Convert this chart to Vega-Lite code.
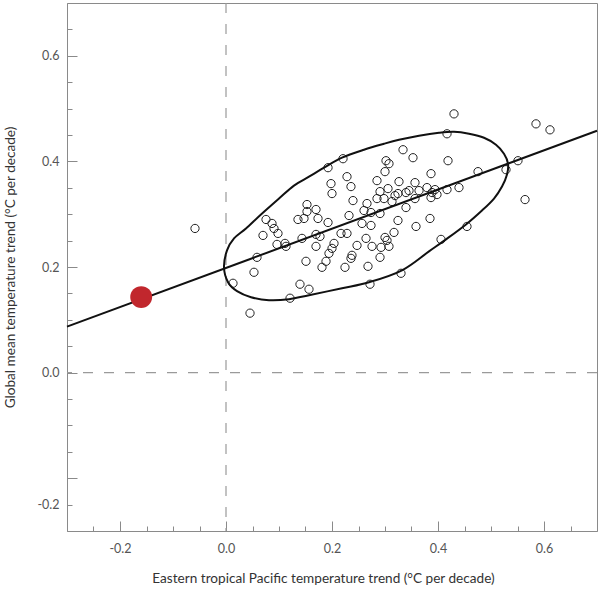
{
  "$schema": "https://vega.github.io/schema/vega-lite/v6.json",
  "width": 530,
  "height": 528,
  "autosize": "none",
  "padding": {"left": 67, "top": 3, "right": 3, "bottom": 63},
  "background": "white",
  "resolve": {"axis": {"x": "independent", "y": "independent"}},
  "config": {
    "view": {"stroke": "#8a8a8a", "strokeWidth": 1},
    "axis": {
      "domainColor": "#8a8a8a",
      "tickColor": "#8a8a8a",
      "domainWidth": 1,
      "tickWidth": 1,
      "grid": false,
      "labelFont": "Lato",
      "labelFontSize": 12.5,
      "labelColor": "#555555",
      "titleFont": "Lato",
      "titleFontSize": 13.6,
      "titleFontWeight": "normal",
      "titleColor": "#333333",
      "labelOverlap": false,
      "labelFlush": false,
      "labelBound": false
    }
  },
  "layer": [
    {
      "data": {"values": [{"x": 0}]},
      "mark": {"type": "rule", "color": "#9a9a9a", "strokeWidth": 1.2, "strokeDash": [10, 11]},
      "encoding": {
        "x": {"field": "x", "type": "quantitative", "scale": {"domain": [-0.3, 0.7], "nice": false, "zero": false}, "axis": null}
      }
    },
    {
      "data": {"values": [{"y": 0}]},
      "mark": {"type": "rule", "color": "#9a9a9a", "strokeWidth": 1.2, "strokeDash": [10, 11]},
      "encoding": {
        "y": {"field": "y", "type": "quantitative", "scale": {"domain": [-0.3, 0.7], "nice": false, "zero": false}, "axis": null}
      }
    },
    {
      "data": {"values": [
        {"x": -0.0585, "y": 0.273}, {"x": 0.0453, "y": 0.1126}, {"x": 0.0132, "y": 0.1692}, {"x": 0.0585, "y": 0.2183},
        {"x": 0.0528, "y": 0.19}, {"x": 0.0698, "y": 0.2598}, {"x": 0.0755, "y": 0.29}, {"x": 0.0868, "y": 0.2825},
        {"x": 0.0906, "y": 0.273}, {"x": 0.0981, "y": 0.2636}, {"x": 0.0962, "y": 0.2428}, {"x": 0.1113, "y": 0.2447},
        {"x": 0.1132, "y": 0.2391}, {"x": 0.1434, "y": 0.2542}, {"x": 0.1528, "y": 0.3183}, {"x": 0.1528, "y": 0.3051},
        {"x": 0.1698, "y": 0.3089}, {"x": 0.1358, "y": 0.29}, {"x": 0.1472, "y": 0.2919}, {"x": 0.1736, "y": 0.2919},
        {"x": 0.1925, "y": 0.2843}, {"x": 0.1698, "y": 0.2617}, {"x": 0.1774, "y": 0.2579}, {"x": 0.1698, "y": 0.2391},
        {"x": 0.1509, "y": 0.2108}, {"x": 0.1887, "y": 0.2108}, {"x": 0.1396, "y": 0.1674}, {"x": 0.1566, "y": 0.1579},
        {"x": 0.1208, "y": 0.1409},
        {"x": 0.1925, "y": 0.3881}, {"x": 0.2208, "y": 0.4051}, {"x": 0.334, "y": 0.4221}, {"x": 0.3528, "y": 0.407},
        {"x": 0.3019, "y": 0.4013}, {"x": 0.3075, "y": 0.3957}, {"x": 0.3, "y": 0.3806}, {"x": 0.2283, "y": 0.3711},
        {"x": 0.1981, "y": 0.3579}, {"x": 0.2, "y": 0.3391}, {"x": 0.2358, "y": 0.3523}, {"x": 0.3264, "y": 0.3617},
        {"x": 0.2849, "y": 0.3636}, {"x": 0.2906, "y": 0.3428}, {"x": 0.3057, "y": 0.3485}, {"x": 0.3189, "y": 0.3353},
        {"x": 0.3245, "y": 0.3391}, {"x": 0.3453, "y": 0.3447}, {"x": 0.3566, "y": 0.3598}, {"x": 0.3642, "y": 0.3447},
        {"x": 0.3792, "y": 0.3504}, {"x": 0.3868, "y": 0.3768}, {"x": 0.3887, "y": 0.341}, {"x": 0.2396, "y": 0.3258},
        {"x": 0.266, "y": 0.3202}, {"x": 0.2849, "y": 0.3296}, {"x": 0.2981, "y": 0.3296}, {"x": 0.3132, "y": 0.324},
        {"x": 0.3396, "y": 0.3126}, {"x": 0.2321, "y": 0.2975}, {"x": 0.2604, "y": 0.307}, {"x": 0.2736, "y": 0.3032},
        {"x": 0.2906, "y": 0.3013}, {"x": 0.2566, "y": 0.2825}, {"x": 0.2736, "y": 0.2787}, {"x": 0.3245, "y": 0.2881},
        {"x": 0.3585, "y": 0.2768}, {"x": 0.3849, "y": 0.2919},
        {"x": 0.4302, "y": 0.49}, {"x": 0.5849, "y": 0.4711}, {"x": 0.6113, "y": 0.4598}, {"x": 0.417, "y": 0.4523},
        {"x": 0.4189, "y": 0.4013}, {"x": 0.4755, "y": 0.3806}, {"x": 0.5283, "y": 0.3843}, {"x": 0.5509, "y": 0.4013},
        {"x": 0.5642, "y": 0.3277}, {"x": 0.4396, "y": 0.3504}, {"x": 0.417, "y": 0.3466}, {"x": 0.3943, "y": 0.3466},
        {"x": 0.3396, "y": 0.341}, {"x": 0.3566, "y": 0.3296}, {"x": 0.3868, "y": 0.3315}, {"x": 0.3981, "y": 0.3372},
        {"x": 0.4547, "y": 0.2768}, {"x": 0.4057, "y": 0.2523},
        {"x": 0.217, "y": 0.2636}, {"x": 0.2283, "y": 0.2636}, {"x": 0.2038, "y": 0.2447}, {"x": 0.2, "y": 0.2353},
        {"x": 0.1943, "y": 0.2258}, {"x": 0.1811, "y": 0.1994}, {"x": 0.2472, "y": 0.2409}, {"x": 0.2377, "y": 0.2221},
        {"x": 0.2358, "y": 0.2164}, {"x": 0.2245, "y": 0.1994}, {"x": 0.2642, "y": 0.2542}, {"x": 0.2755, "y": 0.2391},
        {"x": 0.2925, "y": 0.2372}, {"x": 0.3, "y": 0.256}, {"x": 0.3038, "y": 0.2504}, {"x": 0.3075, "y": 0.2391},
        {"x": 0.317, "y": 0.2655}, {"x": 0.2906, "y": 0.2183}, {"x": 0.2679, "y": 0.2013}, {"x": 0.3302, "y": 0.1881},
        {"x": 0.2717, "y": 0.1674}
      ]},
      "mark": {"type": "point", "shape": "circle", "filled": false, "stroke": "#222222", "strokeWidth": 1, "size": 68, "opacity": 1},
      "encoding": {
        "x": {"field": "x", "type": "quantitative", "scale": {"domain": [-0.3, 0.7], "nice": false, "zero": false},
          "axis": {
            "orient": "bottom",
            "offset": 0,
            "values": [-0.2, 0, 0.2, 0.4, 0.6],
            "labelExpr": "datum.value < -0.1 ? '-0.2' : format(datum.value, '.1f')",
            "tickSize": -10,
            "labelPadding": 21,
            "title": "Eastern tropical Pacific temperature trend (°C per decade)",
            "titlePadding": 17,
            "titleX": 256,
            "titleAlign": "center"
          }
        },
        "y": {"field": "y", "type": "quantitative", "scale": {"domain": [-0.3, 0.7], "nice": false, "zero": false},
          "axis": {
            "orient": "left",
            "offset": 0,
            "values": [-0.2, 0, 0.2, 0.4, 0.6],
            "labelExpr": "datum.value < -0.1 ? '' : format(datum.value, '.1f')",
            "tickSize": -10,
            "labelPadding": 18,
            "title": "Global mean temperature trend (°C per decade)",
            "titlePadding": 24
          }
        }
      }
    },
    {
      "data": {"values": [
        {"i": 0, "x": -0.0038, "y": 0.1994}, {"i": 1, "x": 0.0019, "y": 0.2315}, {"i": 2, "x": 0.0151, "y": 0.2542},
        {"i": 3, "x": 0.0377, "y": 0.273}, {"i": 4, "x": 0.066, "y": 0.2994}, {"i": 5, "x": 0.1, "y": 0.3296},
        {"i": 6, "x": 0.1283, "y": 0.3542}, {"i": 7, "x": 0.1566, "y": 0.3711}, {"i": 8, "x": 0.1849, "y": 0.3881},
        {"i": 9, "x": 0.2189, "y": 0.407}, {"i": 10, "x": 0.2604, "y": 0.4221}, {"i": 11, "x": 0.2981, "y": 0.4334},
        {"i": 12, "x": 0.3264, "y": 0.4409}, {"i": 13, "x": 0.3642, "y": 0.4485}, {"i": 14, "x": 0.4019, "y": 0.4541},
        {"i": 15, "x": 0.4302, "y": 0.456}, {"i": 16, "x": 0.4585, "y": 0.4523}, {"i": 17, "x": 0.4868, "y": 0.4447},
        {"i": 18, "x": 0.5094, "y": 0.4315}, {"i": 19, "x": 0.5245, "y": 0.4145}, {"i": 20, "x": 0.5321, "y": 0.3957},
        {"i": 21, "x": 0.5302, "y": 0.375}, {"i": 22, "x": 0.5208, "y": 0.3523}, {"i": 23, "x": 0.5057, "y": 0.3296},
        {"i": 24, "x": 0.483, "y": 0.307}, {"i": 25, "x": 0.4528, "y": 0.2806}, {"i": 26, "x": 0.4151, "y": 0.2523},
        {"i": 27, "x": 0.383, "y": 0.2296}, {"i": 28, "x": 0.3321, "y": 0.1938}, {"i": 29, "x": 0.2698, "y": 0.1711},
        {"i": 30, "x": 0.2189, "y": 0.1598}, {"i": 31, "x": 0.1566, "y": 0.1466}, {"i": 32, "x": 0.1189, "y": 0.1391},
        {"i": 33, "x": 0.0811, "y": 0.1372}, {"i": 34, "x": 0.0472, "y": 0.1428}, {"i": 35, "x": 0.0208, "y": 0.1542},
        {"i": 36, "x": 0.0038, "y": 0.1711}
      ]},
      "mark": {"type": "line", "interpolate": "cardinal-closed", "color": "#111111", "strokeWidth": 2},
      "encoding": {
        "x": {"field": "x", "type": "quantitative", "scale": {"domain": [-0.3, 0.7], "nice": false, "zero": false},
          "axis": {
            "orient": "bottom",
            "offset": 0,
            "values": [-0.25, -0.15, -0.1, -0.05, 0.05, 0.1, 0.15, 0.25, 0.3, 0.35, 0.45, 0.5, 0.55, 0.65],
            "labels": false,
            "domain": false,
            "tickSize": -5,
            "title": null
          }
        },
        "y": {"field": "y", "type": "quantitative", "scale": {"domain": [-0.3, 0.7], "nice": false, "zero": false},
          "axis": {
            "orient": "left",
            "offset": 0,
            "values": [-0.25, -0.15, -0.1, -0.05, 0.05, 0.1, 0.15, 0.25, 0.3, 0.35, 0.45, 0.5, 0.55, 0.65],
            "labelExpr": "datum.value < -0.2 ? '-0.2' : ''",
            "domain": false,
            "tickSize": -5,
            "labelPadding": 13,
            "title": null
          }
        },
        "order": {"field": "i", "type": "quantitative"}
      }
    },
    {
      "data": {"values": [{"x": -0.3, "y": 0.087}, {"x": 0.7, "y": 0.458}]},
      "mark": {"type": "line", "color": "#111111", "strokeWidth": 2},
      "encoding": {
        "x": {"field": "x", "type": "quantitative", "scale": {"domain": [-0.3, 0.7], "nice": false, "zero": false}, "axis": null},
        "y": {"field": "y", "type": "quantitative", "scale": {"domain": [-0.3, 0.7], "nice": false, "zero": false}, "axis": null}
      }
    },
    {
      "data": {"values": [{"x": -0.16, "y": 0.143}]},
      "mark": {"type": "point", "shape": "circle", "filled": true, "color": "#c1272d", "size": 480, "opacity": 1},
      "encoding": {
        "x": {"field": "x", "type": "quantitative", "scale": {"domain": [-0.3, 0.7], "nice": false, "zero": false}, "axis": null},
        "y": {"field": "y", "type": "quantitative", "scale": {"domain": [-0.3, 0.7], "nice": false, "zero": false}, "axis": null}
      }
    }
  ]
}
